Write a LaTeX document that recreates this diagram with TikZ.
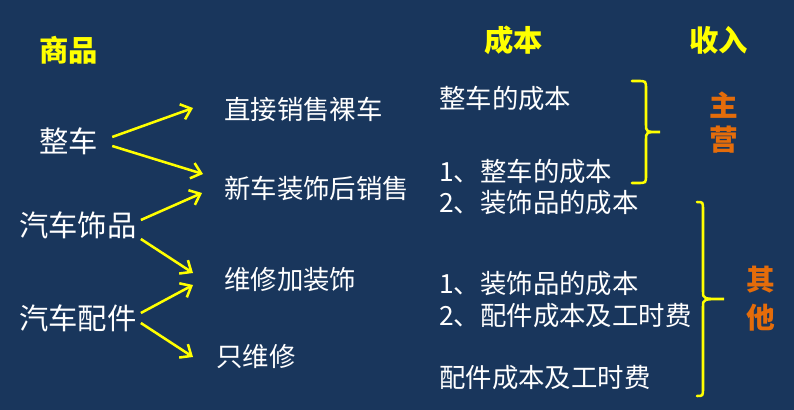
\documentclass[tikz,border=0pt]{standalone}
\usepackage{fontspec}
\setmainfont{Noto Sans CJK SC}
\usetikzlibrary{arrows.meta,calc}
\definecolor{bgblue}{RGB}{25,54,92}
\definecolor{ylw}{RGB}{255,255,0}
\definecolor{org}{RGB}{228,108,10}
\tikzset{
  x=0.75pt,y=-0.75pt,
  hd/.style={inner sep=0pt,anchor=west,text=ylw,font=\fontsize{22}{24}\selectfont\bfseries},
  lft/.style={inner sep=0pt,anchor=west,text=white,font=\fontsize{22}{24}\selectfont},
  mid/.style={inner sep=0pt,anchor=west,text=white,font=\fontsize{19.8}{24}\selectfont},
  inc/.style={inner sep=0pt,text=org,font=\fontsize{21.5}{24}\selectfont\bfseries},
  arr/.style={draw=ylw,line width=1.9pt,-{Straight Barb[length=7pt,width=12pt,line width=1.9pt]}},
  br/.style={draw=ylw,line width=1.9pt,line cap=round}
}
\begin{document}
\begin{tikzpicture}
\useasboundingbox[fill=bgblue] (0,0) rectangle (794,410);
% headers
\node[hd] (sp) at (39,50) {商品};
\node[hd] (cb) at (484,40) {成本};
\node[hd] (sr) at (689,40) {收入};
% left column
\node[lft] (zc) at (39,141) {整车};
\node[lft] (cs) at (19,225) {汽车饰品};
\node[lft] (pj) at (19,318) {汽车配件};
% middle column
\node[mid] (a1) at (224,109) {直接销售裸车};
\node[mid] (a2) at (224,188) {新车装饰后销售};
\node[mid] (a3) at (224,280) {维修加装饰};
\node[mid] (a4) at (216,356) {只维修};
% right column
\node[mid] (c1) at (439,98) {整车的成本};
\node[mid] (c2) at (439,171) {1、整车的成本};
\node[mid] (c3) at (439,203) {2、装饰品的成本};
\node[mid] (c4) at (439,284) {1、装饰品的成本};
\node[mid] (c5) at (439,316) {2、配件成本及工时费};
\node[mid] (c6) at (439,378) {配件成本及工时费};
% income
\node[inc] (z1) at (724,105) {主};
\node[inc] (z2) at (724,140) {营};
\node[inc] (q1) at (761,280) {其};
\node[inc] (q2) at (761,318) {他};
% arrows
\draw[arr] ($(zc.east)+(14,-4)$) -- ($(a1.west)+(-31,-1)$);
\draw[arr] ($(zc.east)+(14,5)$) -- ($(a2.west)+(-21,-14)$);
\draw[arr] ($(cs.east)+(4,-5)$) -- ($(a2.west)+(-22,5)$);
\draw[arr] ($(cs.east)+(4,14)$) -- ($(a3.west)+(-31,-7)$);
\draw[arr] ($(pj.east)+(4,-5)$) -- ($(a3.west)+(-31,5)$);
\draw[arr] ($(pj.east)+(4,5)$) -- ($(a4.west)+(-23,1)$);
% braces
\draw[br] (632,81) -- (638,81) .. controls (646,81) .. (646,89) -- (646,124)
  .. controls (646,132) .. (660,132) .. controls (646,132) .. (646,140)
  -- (646,175) .. controls (646,183) .. (638,183) -- (632,183);
\draw[br] (697,202) .. controls (703,202) .. (703,210) -- (703,291)
  .. controls (703,299) .. (724,299) .. controls (703,299) .. (703,307)
  -- (703,388) .. controls (703,396) .. (697,396);
\end{tikzpicture}
\end{document}
